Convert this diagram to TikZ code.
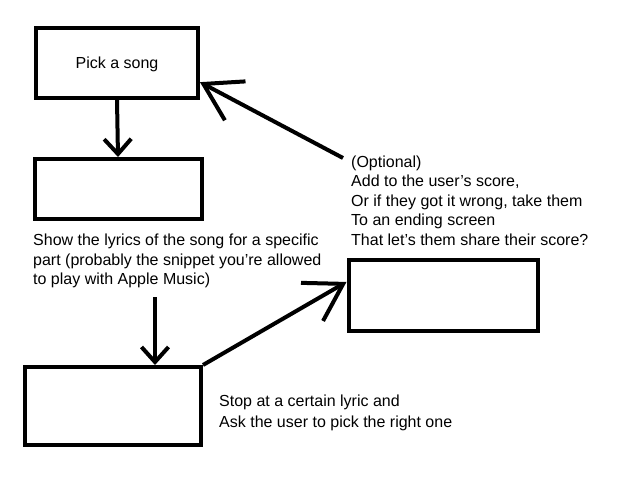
\documentclass[tikz,border=0pt]{standalone}
\usepackage{fontspec}
\setmainfont{Liberation Sans}
\usepackage{tikz}
\usetikzlibrary{arrows.meta}
\tikzstyle{screen} = [draw=black, line width=4pt, rectangle, inner sep=0pt]
\tikzstyle{note} = [align=left, inner sep=0pt, anchor=base west]
\tikzstyle{smallhead} = [line width=4pt, -{Straight Barb[length=15pt,width=27pt]}]
\tikzstyle{bighead} = [line width=4pt, -{Straight Barb[length=36pt,width=44pt]}]

\begin{document}
\begin{tikzpicture}[x=1pt, y=-1pt, font=\fontsize{16}{19.5}\selectfont]
\useasboundingbox (0,0) rectangle (640,480);
\node [screen, minimum width=162pt, minimum height=70pt, text depth=0pt] (pick) at (117,63) {Pick a song};
\node [screen, minimum width=167pt, minimum height=60pt] (lyrics) at (118,189) {};
\node [screen, minimum width=189pt, minimum height=71pt] (score) at (443,295.5) {};
\node [screen, minimum width=176pt, minimum height=78pt] (guess) at (113,406) {};
% base anchor sits on the last line
\node [note] (lyricsnote) at (33,284.5) {Show the lyrics of the song for a specific\\
    part (probably the snippet you’re allowed\\
    to play with Apple Music)};
\node [note] (scorenote) at (351,245) {(Optional)\\
    Add to the user’s score,\\
    Or if they got it wrong, take them\\
    To an ending screen\\
    That let’s them share their score?};
\node [note] (guessnote) at (219,427) {Stop at a certain lyric and\\[1.5pt]
    Ask the user to pick the right one};
\coordinate (lyricsend) at (155,297);
\coordinate (scorestart) at (343,158);
\draw [smallhead] (pick.south) -- (lyrics.north);
\draw [smallhead] (lyricsend) -- (lyricsend |- guess.north);
\draw [bighead] (guess.north east) -- (score.172);
\draw [bighead] (scorestart) -- (pick.-13);
\end{tikzpicture}
\end{document}
